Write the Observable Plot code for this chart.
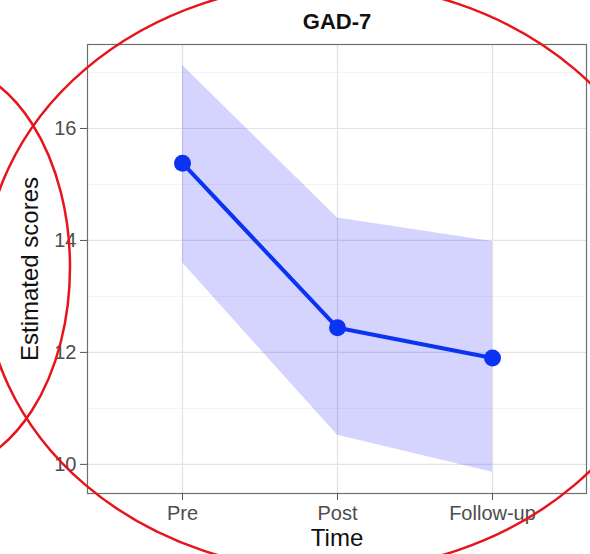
<!DOCTYPE html>
<html>
<head>
<meta charset="utf-8">
<script src="https://cdn.jsdelivr.net/npm/d3@7"></script>
<script src="https://cdn.jsdelivr.net/npm/@observablehq/plot@0.6"></script>
<style>
  html, body { margin: 0; padding: 0; background: #fff; }
  #wrap { position: relative; width: 590px; height: 554px; overflow: hidden; }
  #overlay { position: absolute; left: 0; top: 0; pointer-events: none; }
</style>
</head>
<body>
<div id="wrap"></div>
<script>
const times = ["Pre", "Post", "Follow-up"];
const estimate = [15.38, 12.44, 11.90];
const lower = [13.60, 10.52, 9.86];
const upper = [17.13, 14.40, 13.98];
const majorTicks = [10, 12, 14, 16];
const minorTicks = [11, 13, 15, 17];
const title = "GAD-7";
const xLabel = "Time";
const yLabel = "Estimated scores";

const data = times.map((t, i) => ({time: t, est: estimate[i], lo: lower[i], hi: upper[i]}));
const blue = "#0a33f2";

const chart = Plot.plot({
  width: 590,
  height: 554,
  marginTop: 44,
  marginBottom: 61,
  marginLeft: 87,
  marginRight: 4,
  style: {fontFamily: "'Liberation Sans', Arial, sans-serif", background: "#fff"},
  x: {type: "point", domain: times, padding: 0.6, label: null},
  y: {domain: [9.48, 17.5], label: null},
  marks: [
    Plot.ruleY(minorTicks, {stroke: "#f0f0f0", strokeWidth: 0.8}),
    Plot.ruleY(majorTicks, {stroke: "#e2e2e2", strokeWidth: 1.2}),
    Plot.ruleX(times, {stroke: "#e2e2e2", strokeWidth: 1.2}),
    Plot.areaY(data, {x: "time", y1: "lo", y2: "hi", fill: "#0000ff", fillOpacity: 0.17, curve: "linear"}),
    Plot.line(data, {x: "time", y: "est", stroke: blue, strokeWidth: 4}),
    Plot.dot(data, {x: "time", y: "est", r: 8.5, fill: blue, stroke: null}),
    Plot.frame({stroke: "#6e6e6e", strokeWidth: 1.2}),
    Plot.axisY({ticks: majorTicks, tickSize: 7, tickPadding: 4, fontSize: 20, color: "#4d4d4d", stroke: "#555", label: null}),
    Plot.axisX({tickSize: 7, tickPadding: 5, fontSize: 20, color: "#4d4d4d", stroke: "#555", label: null}),
    Plot.text([title], {frameAnchor: "top", dy: -31, fontSize: 22, fontWeight: "bold", fill: "#111"}),
    Plot.text([xLabel], {frameAnchor: "bottom", dy: 52, fontSize: 24, fill: "#111"}),
    Plot.text([yLabel], {frameAnchor: "left", textAnchor: "middle", dx: -57, rotate: -90, fontSize: 24, fill: "#111"})
  ]
});
document.getElementById("wrap").appendChild(chart);

// red annotation ellipses drawn on top of the reference picture
const ns = "http://www.w3.org/2000/svg";
const ov = document.createElementNS(ns, "svg");
ov.setAttribute("id", "overlay");
ov.setAttribute("width", 590);
ov.setAttribute("height", 554);
const ellipses = [
  {cx: 330, cy: 277, rx: 346, ry: 294},
  {cx: -60, cy: 267, rx: 130, ry: 203}
];
for (const e of ellipses) {
  const el = document.createElementNS(ns, "ellipse");
  for (const k in e) el.setAttribute(k, e[k]);
  el.setAttribute("fill", "none");
  el.setAttribute("stroke", "#e8141b");
  el.setAttribute("stroke-width", 2.5);
  ov.appendChild(el);
}
document.getElementById("wrap").appendChild(ov);
</script>
</body>
</html>
